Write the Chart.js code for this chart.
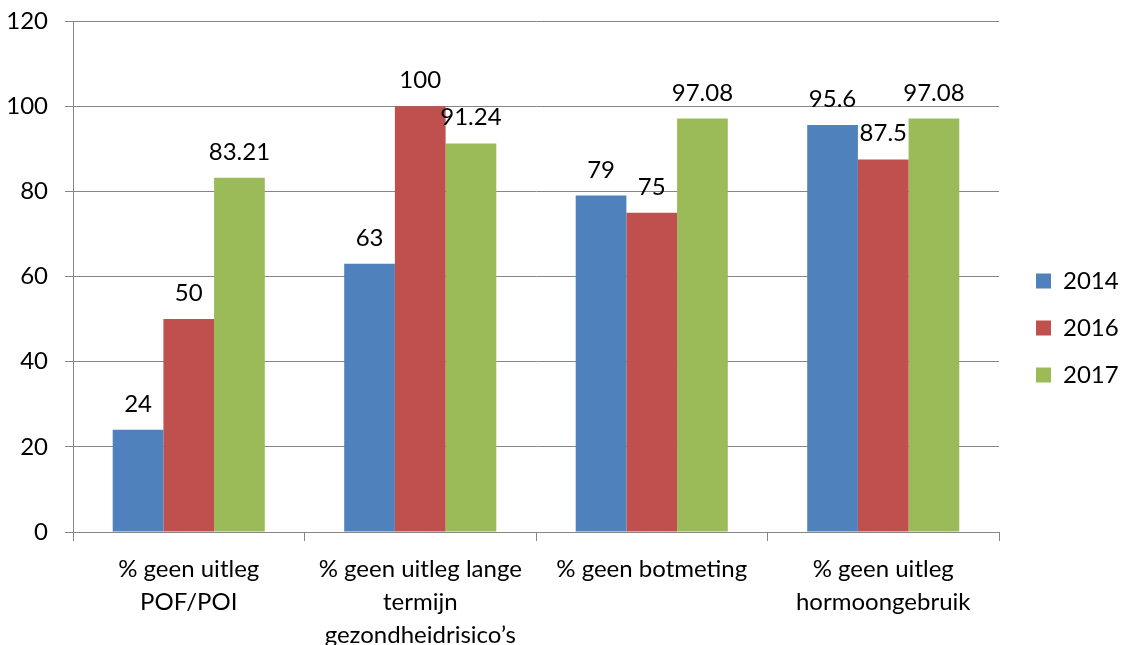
<!DOCTYPE html>
<html>
<head>
<meta charset="utf-8">
<script src="https://cdn.jsdelivr.net/npm/chart.js@4/dist/chart.umd.min.js"></script>
<style>
  body { margin: 0; background: #fff; }
</style>
</head>
<body>
<canvas id="chart" width="1122" height="645"></canvas>
<script>
const categories = [
    ['% geen uitleg', 'POF/POI'],
    ['% geen uitleg lange', 'termijn', 'gezondheidrisico\u2019s'],
    '% geen botmeting',
    ['% geen uitleg', 'hormoongebruik']
];
const years = ['2014', '2016', '2017'];
const values2014 = [24, 63, 79, 95.6];
const values2016 = [50, 100, 75, 87.5];
const values2017 = [83.21, 91.24, 97.08, 97.08];
const yTicks = [0, 20, 40, 60, 80, 100, 120];

const colors = ['#4F81BD', '#C0504D', '#9BBB59'];
const gridColor = '#868686';
const fontFamily = 'Lato, "Liberation Sans", sans-serif';

// values written above each bar
const valueLabels = {
    id: 'valueLabels',
    afterDatasetsDraw(chart) {
        const ctx = chart.ctx;
        ctx.save();
        ctx.font = '24px ' + fontFamily;
        ctx.fillStyle = '#000';
        ctx.textAlign = 'center';
        ctx.textBaseline = 'alphabetic';
        chart.data.datasets.forEach((ds, i) => {
            chart.getDatasetMeta(i).data.forEach((bar, j) => {
                ctx.fillText(String(ds.data[j]), bar.x, bar.y - 18);
            });
        });
        ctx.restore();
    }
};

const ctx = document.getElementById('chart').getContext('2d');
new Chart(ctx, {
    type: 'bar',
    data: {
        labels: categories,
        datasets: [
            { label: years[0], data: values2014, backgroundColor: colors[0] },
            { label: years[1], data: values2016, backgroundColor: colors[1] },
            { label: years[2], data: values2017, backgroundColor: colors[2] }
        ]
    },
    options: {
        responsive: false,
        animation: false,
        barPercentage: 1,
        categoryPercentage: 0.657,
        layout: { padding: { top: 11, right: 0, bottom: 0, left: 0 } },
        plugins: {
            tooltip: { enabled: false },
            legend: {
                position: 'right',
                maxWidth: 109,
                labels: {
                    boxWidth: 15,
                    boxHeight: 15,
                    padding: 23,
                    color: '#000',
                    font: { family: fontFamily, size: 24 }
                }
            }
        },
        scales: {
            x: {
                grid: { drawOnChartArea: false, tickLength: 9, color: gridColor },
                border: { color: gridColor },
                ticks: {
                    color: '#000',
                    padding: 12,
                    maxRotation: 0,
                    autoSkip: false,
                    font: { family: fontFamily, size: 24, lineHeight: 1.375 }
                },
                afterFit: s => {
                    s.height = 113;
                    s.paddingLeft = 0;
                    s.paddingRight = 0;
                }
            },
            y: {
                min: 0,
                max: 120,
                afterBuildTicks: s => { s.ticks = yTicks.map(v => ({ value: v })); },
                grid: { color: gridColor, tickLength: 8 },
                border: { color: gridColor },
                ticks: {
                    color: '#000',
                    padding: 17,
                    font: { family: fontFamily, size: 24 }
                },
                afterFit: s => {
                    s.width = 73;
                    s.paddingTop = 21;
                    s.paddingBottom = 0;
                }
            },
            gap: {
                type: 'linear',
                position: 'right',
                grid: { display: false },
                border: { display: false },
                ticks: { display: false },
                afterFit: s => {
                    s.width = 14;
                    s.paddingTop = 0;
                    s.paddingBottom = 0;
                }
            }
        }
    },
    plugins: [valueLabels]
});
</script>
</body>
</html>
